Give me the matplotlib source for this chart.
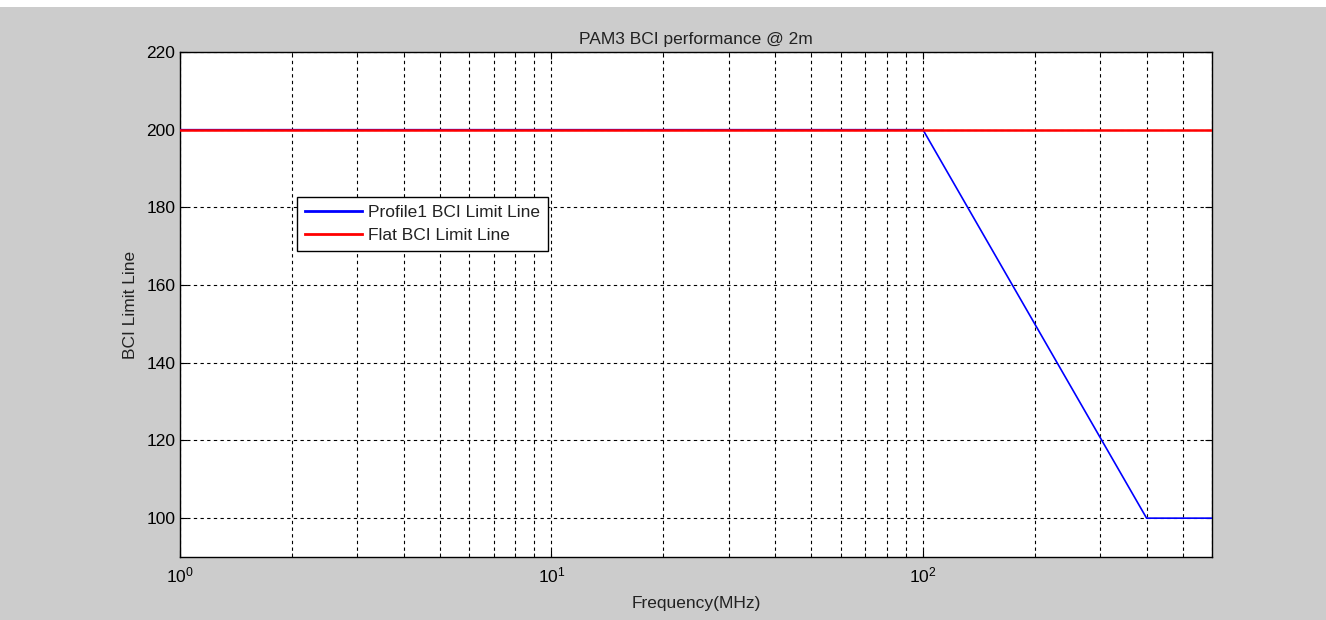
import matplotlib
matplotlib.use("Agg")
import matplotlib.pyplot as plt
from matplotlib.patches import Rectangle
from matplotlib.ticker import LogLocator, NullFormatter

plt.rcParams['font.family'] = ['Liberation Sans', 'DejaVu Sans']
plt.rcParams['mathtext.fontset'] = 'custom'
plt.rcParams['mathtext.rm'] = 'Liberation Sans'
plt.rcParams['mathtext.it'] = 'Liberation Sans'
plt.rcParams['mathtext.bf'] = 'Liberation Sans'

# Data
profile_freq = [1, 100, 400, 600]
profile_level = [200, 200, 100, 100]
flat_freq = [1, 600]
flat_level = [200, 200]
yticks = [100, 120, 140, 160, 180, 200, 220]

FS = 12.5

fig = plt.figure(figsize=(13.26, 6.2), dpi=100, facecolor='#cccccc')
fig.patches.append(Rectangle((0, 1 - 7/620), 1, 7/620, transform=fig.transFigure,
                             facecolor='white', edgecolor='none', zorder=-1))
ax = fig.add_axes([180/1326, 63/620, 1032/1326, 505/620])
ax.set_facecolor('white')

ax.plot(profile_freq, profile_level, color='#0000ff', lw=1.2, label='Profile1 BCI Limit Line', zorder=3)
ax.plot(flat_freq, flat_level, color='#ff0000', lw=1.8, label='Flat BCI Limit Line', zorder=4)

ax.set_xscale('log')
ax.set_xlim(1, 600)
ax.set_ylim(90, 220)
ax.set_yticks(yticks)
ax.xaxis.set_major_locator(LogLocator(base=10, numticks=10))
ax.xaxis.set_minor_locator(LogLocator(base=10, subs=range(2, 10), numticks=20))
ax.xaxis.set_minor_formatter(NullFormatter())

ax.grid(True, which='major', color='black', linestyle=(0, (3, 3)), linewidth=0.8)
ax.grid(True, which='minor', axis='x', color='black', linestyle=(0, (3, 3)), linewidth=0.8)

ax.tick_params(axis='both', which='both', direction='in', top=True, right=True,
               labelsize=FS, colors='black')
ax.tick_params(which='major', length=5)
ax.tick_params(which='minor', length=3)
ax.tick_params(axis='x', pad=6)
for s in ax.spines.values():
    s.set_linewidth(1.0)
    s.set_color('black')

ax.set_title('PAM3 BCI performance @ 2m', fontsize=FS, pad=6, color='#222222')
ax.set_xlabel('Frequency(MHz)', fontsize=FS, labelpad=8, color='#222222')
ax.set_ylabel('BCI Limit Line', fontsize=FS, labelpad=6, color='#222222')

leg = ax.legend(loc='upper left', bbox_to_anchor=(117/1032, (557-197)/505), fontsize=FS,
                frameon=True, fancybox=False, edgecolor='black', framealpha=1,
                borderaxespad=0, handlelength=3.3, handletextpad=0.35,
                borderpad=0.45, labelspacing=0.45)
leg.get_frame().set_linewidth(1.0)
for line in leg.get_lines():
    line.set_linewidth(2)
for t in leg.get_texts():
    t.set_color('#222222')

fig.savefig('out.png', dpi=100, facecolor=fig.get_facecolor())
